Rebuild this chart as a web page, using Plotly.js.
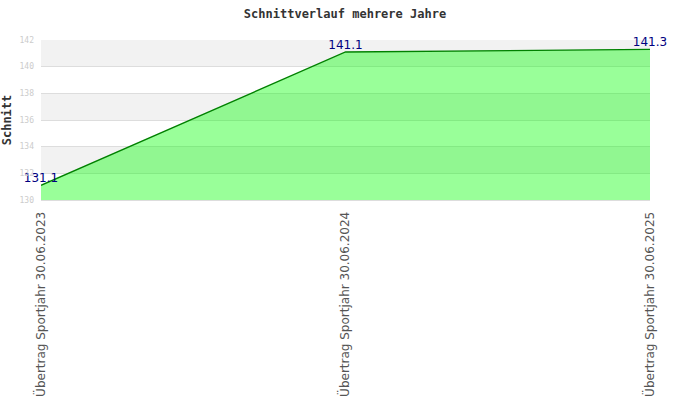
<!DOCTYPE html>
<html><head><meta charset="utf-8">
<script src="https://cdn.plot.ly/plotly-3.0.1.min.js"></script>
<style>body{margin:0;background:#fff}#c{width:690px;height:420px}</style>
</head><body><div id="c"></div>
<script>
const categories = ["Übertrag Sportjahr 30.06.2023", "Übertrag Sportjahr 30.06.2024", "Übertrag Sportjahr 30.06.2025"];
const values = [131.1, 141.1, 141.3];
const yTicks = [130, 132, 134, 136, 138, 140, 142];

const xIdx = categories.map((c, i) => i);
const bands = [];
for (let i = 0; i < yTicks.length - 1; i++) {
  if ((yTicks.length - 2 - i) % 2 === 0) {
    bands.push({type:'rect', xref:'paper', yref:'y', x0:0, x1:1, y0:yTicks[i], y1:yTicks[i+1],
      fillcolor:'#f2f2f2', line:{width:0}, layer:'below'});
  }
}

const trace = {
  x: xIdx, y: values, type:'scatter', mode:'lines+text',
  fill:'tozeroy', fillcolor:'rgba(0,255,0,0.4)',
  line:{color:'#008000', width:1.3},
  text: values.map(v => v.toFixed(1)),
  textposition: 'top center',
  textfont:{family:'DejaVu Sans, sans-serif', size:12, color:'#000080'},
  cliponaxis:false, hoverinfo:'none'
};

const layout = {
  width:690, height:420,
  margin:{l:41, r:40, t:40, b:220},
  paper_bgcolor:'#fff', plot_bgcolor:'rgba(0,0,0,0)',
  showlegend:false,
  title:{text:'Schnittverlauf mehrere Jahre', x:0.5, xanchor:'center', y:0.966, yanchor:'middle',
    font:{family:'DejaVu Sans Mono, monospace', size:12, color:'#333', weight:'bold'}},
  xaxis:{range:[0, categories.length-1], tickvals:xIdx, ticktext:categories, tickangle:-90,
    showgrid:false, zeroline:false, showline:true, linecolor:'#dddddd', ticks:'', ticklabelstandoff:6,
    tickfont:{family:'DejaVu Sans, sans-serif', size:12, color:'#555'}},
  yaxis:{range:[130, 142], tickvals:yTicks, showgrid:true, gridcolor:'#dddddd', zeroline:false,
    showline:false, ticks:'', ticklabelstandoff:6,
    tickfont:{family:'DejaVu Sans Mono, monospace', size:8, color:'#cccccc'},
    title:{text:'Schnitt', standoff:12, font:{family:'DejaVu Sans Mono, monospace', size:12, color:'#333', weight:'bold'}}},
  shapes: bands
};
Plotly.newPlot('c', [trace], layout, {staticPlot:true, displayModeBar:false});
</script></body></html>
